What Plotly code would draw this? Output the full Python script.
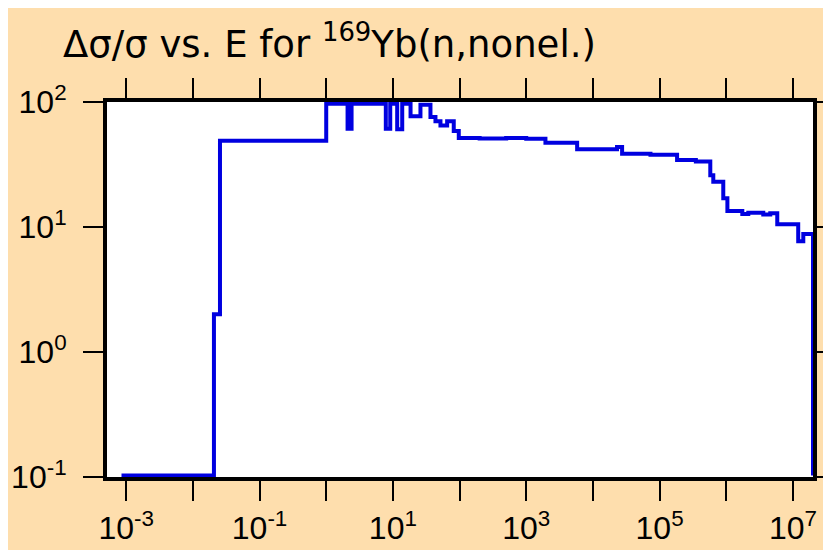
import plotly.graph_objects as go

# group boundaries (eV) and relative uncertainty (%) starting at each boundary
energy_ev = [8.5e-4, 0.0207, 0.0255, 1.0, 2.09, 2.40, 7.83, 9.12, 11.6, 13.8,
             18.4, 25.9, 36.6, 43.5, 51.7, 65.1, 81.8, 97.3, 200.0, 500.0,
             1000.0, 1941.0, 5800.0, 2.30e4, 2.74e4, 7.3e4, 1.83e5, 3.5e5,
             5.76e5, 6.39e5, 9.02e5, 1.04e6, 1.74e6, 2.14e6, 3.59e6, 4.57e6,
             5.82e6, 1.20e7, 1.43e7, 2.0e7]
rel_unc = [0.103, 2.0, 49.0, 97.0, 61.0, 97.0, 61.0, 97.0, 60.5, 97.0,
           77.0, 95.0, 76.0, 70.0, 65.0, 70.0, 58.6, 51.5, 51.0, 51.5,
           50.8, 47.2, 41.8, 43.6, 38.5, 37.9, 34.4, 33.4,
           26.0, 23.0, 17.0, 13.4, 12.7, 13.0, 12.6, 12.9,
           10.5, 7.7, 8.8, 0.103]

x_tickvals = [1e-3, 1e-2, 1e-1, 1e0, 1e1, 1e2, 1e3, 1e4, 1e5, 1e6, 1e7]
x_ticktext = ["10<sup>-3</sup>", "", "10<sup>-1</sup>", "", "10<sup>1</sup>", "",
              "10<sup>3</sup>", "", "10<sup>5</sup>", "", "10<sup>7</sup>"]
y_tickvals = [0.1, 1, 10, 100]
y_ticktext = ["10<sup>-1</sup>", "10<sup>0</sup>", "10<sup>1</sup>", "10<sup>2</sup>"]

font_family = "Liberation Sans, Arial, sans-serif"

fig = go.Figure()

fig.add_trace(
    go.Scatter(
        x=energy_ev,
        y=rel_unc,
        mode='lines',
        line=dict(color='#0000E0', width=4, shape='hv'),
        showlegend=False,
    )
)

axis_style = dict(
    type='log',
    showline=True,
    linecolor='black',
    linewidth=4,
    mirror='ticks',
    ticks='outside',
    ticklen=20,
    tickwidth=2,
    tickcolor='black',
    showgrid=False,
    zeroline=False,
    automargin=False,
    tickfont=dict(family=font_family, size=32, color='black'),
)

fig.update_layout(
    width=831,
    height=550,
    margin=dict(l=99, r=26, t=94, b=81),
    paper_bgcolor='#FEDEAD',
    plot_bgcolor='white',
    title=dict(
        text="Δσ/σ vs. E for <sup>169</sup>Yb(n,nonel.)",
        x=55 / 831,
        xanchor='left',
        y=1 - 36 / 550,
        yanchor='middle',
        font=dict(family="DejaVu Sans, sans-serif", size=37, color='black'),
    ),
    xaxis=dict(axis_style, range=[-3.288, 7.301],
               tickvals=x_tickvals, ticktext=x_ticktext),
    yaxis=dict(axis_style, range=[-1, 2],
               tickvals=y_tickvals, ticktext=y_ticktext, ticklabelstandoff=10),
)

fig.write_html("out.html")
